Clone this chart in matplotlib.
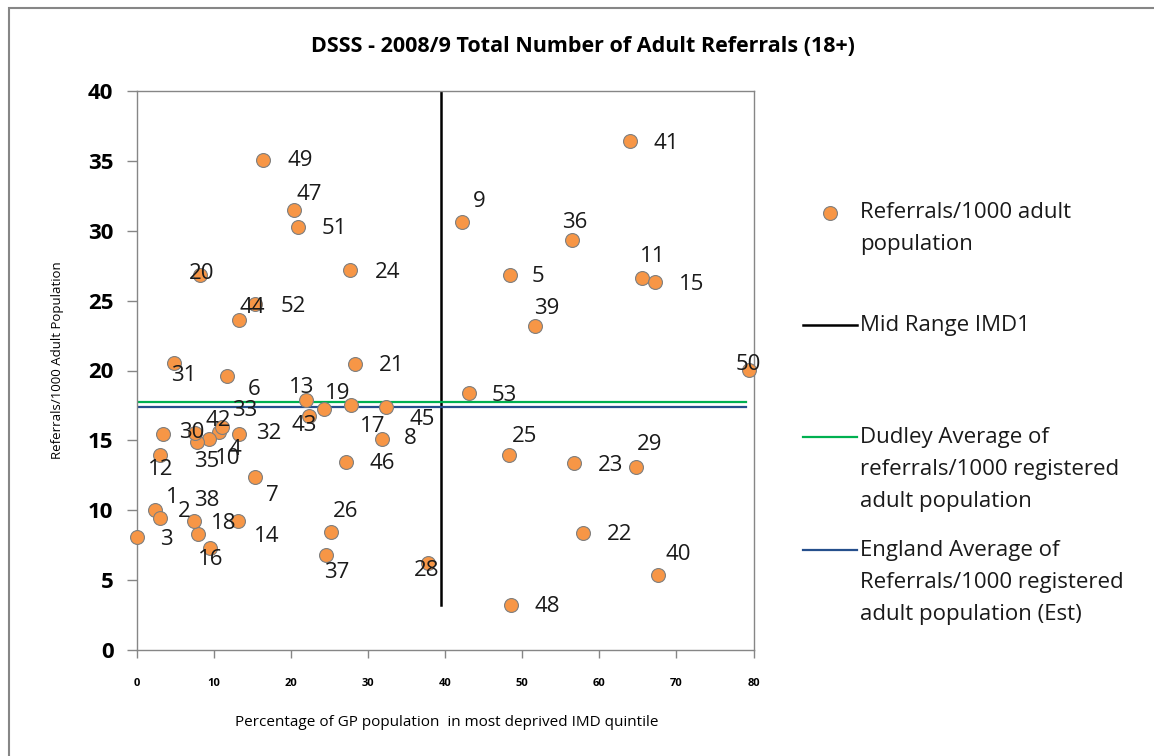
import matplotlib
matplotlib.use("Agg")
import matplotlib.pyplot as plt
from matplotlib.lines import Line2D
from matplotlib.patches import Rectangle

plt.rcParams["font.family"] = ["Open Sans", "DejaVu Sans"]

# GP practice number, % population in most deprived quintile, referrals/1000
practice = [1, 2, 3, 4, 5, 6, 7, 8, 9, 10, 11, 12, 13, 14, 15, 16, 17, 18, 19, 20,
            21, 22, 23, 24, 25, 26, 28, 29, 30, 31, 32, 33, 35, 36, 37, 38, 39, 40,
            41, 42, 43, 44, 45, 46, 47, 48, 49, 50, 51, 52, 53]
pct_deprived = [2.37, 2.93, 0.0, 10.67, 48.42, 11.67, 15.34, 31.78, 42.15, 9.38,
                65.5, 3.02, 21.92, 13.05, 67.26, 9.42, 27.8, 7.91, 24.29, 8.21,
                28.35, 57.93, 56.72, 27.67, 48.25, 25.16, 37.82, 64.72, 3.37, 4.84,
                13.18, 11.02, 7.78, 56.5, 24.51, 7.43, 51.66, 67.65, 63.98, 7.56,
                22.35, 13.27, 32.3, 27.15, 20.4, 48.51, 16.34, 79.46, 20.88, 15.34,
                43.14]
referrals = [10.02, 9.42, 8.06, 15.62, 26.83, 19.63, 12.36, 15.10, 30.65, 15.08,
             26.60, 13.98, 17.89, 9.25, 26.33, 7.32, 17.51, 8.28, 17.22, 26.83,
             20.47, 8.35, 13.36, 27.19, 13.93, 8.44, 6.20, 13.12, 15.46, 20.56,
             15.43, 15.94, 14.86, 29.34, 6.80, 9.25, 23.21, 5.37, 36.42, 15.51,
             16.77, 23.61, 17.41, 13.43, 31.49, 3.22, 35.06, 20.04, 30.29, 24.74,
             18.37]

mid_range_x = 39.5
mid_range_y = [3.2, 40]
dudley_avg = 17.75
england_avg = 17.4
avg_x = [0, 79]

# label offsets in pixels (dx right, dy down) as placed on the original chart
label_offset = {
    1: (17, -12), 2: (25, -7), 3: (29, 2), 4: (16, 18), 5: (28, 1), 6: (27, 14),
    7: (17, 18), 8: (28, 0), 9: (17, -20), 10: (18, 19), 11: (11, -22),
    12: (0, 15), 13: (-4, -12), 14: (29, 16), 15: (36, 2), 16: (1, 12),
    17: (21, 21), 18: (26, -11), 19: (14, -16), 20: (1, -2), 21: (36, 2),
    22: (36, 1), 23: (36, 2), 24: (37, 2), 25: (16, -19), 26: (15, -21),
    28: (-2, 7), 29: (14, -22), 30: (29, -1), 31: (9, 13), 32: (30, -1),
    33: (23, -17), 35: (10, 19), 36: (2, -17), 37: (11, 18), 38: (12, -20),
    39: (12, -17), 40: (20, -20), 41: (36, 2), 42: (23, -13), 43: (-5, 10),
    44: (13, -13), 45: (36, 13), 46: (36, 1), 47: (15, -15), 48: (36, 1),
    49: (37, 0), 50: (-1, -5), 51: (36, 2), 52: (38, 2), 53: (35, 2),
}

ORANGE = "#F79646"
GREEN = "#00B050"
BLUE = "#254F8C"
GREY = "#868686"

W, H = 1154, 756
fig = plt.figure(figsize=(W / 100, H / 100), dpi=100)
ax = fig.add_axes([137 / W, 1 - 650 / H, (753.5 - 137) / W, (650 - 91) / H])

ax.plot([mid_range_x, mid_range_x], mid_range_y, color="black", lw=1.8, zorder=2)
ax.plot(avg_x, [dudley_avg, dudley_avg], color=GREEN, lw=1.6, zorder=2)
ax.plot(avg_x, [england_avg, england_avg], color=BLUE, lw=1.6, zorder=2)
ax.scatter(pct_deprived, referrals, s=100, color=ORANGE, edgecolor="#7f7f7f",
           linewidth=0.8, zorder=3, clip_on=False)

for n, x, y in zip(practice, pct_deprived, referrals):
    dx, dy = label_offset[n]
    ax.annotate(str(n), (x, y), xytext=(dx, -dy), textcoords="offset pixels",
                ha="center", va="center", fontsize=16, color="#1a1a1a",
                zorder=4, annotation_clip=False)

ax.set_xlim(0, 80)
ax.set_ylim(0, 40)
ax.set_xticks(range(0, 81, 10))
ax.set_yticks(range(0, 41, 5))
for s in ax.spines.values():
    s.set_color(GREY)
    s.set_linewidth(1)
ax.tick_params(axis="y", length=7, width=1, color=GREY, pad=10, labelsize=16)
ax.tick_params(axis="x", length=6, width=1, color=GREY, pad=14, labelsize=8)
for lab in ax.get_xticklabels() + ax.get_yticklabels():
    lab.set_fontweight("bold")

fig.text(583 / W, 1 - 47 / H, "DSSS - 2008/9 Total Number of Adult Referrals (18+)",
         ha="center", va="center", fontsize=15.5, fontweight="bold")
fig.text(447 / W, 1 - 722 / H,
         "Percentage of GP population  in most deprived IMD quintile",
         ha="center", va="center", fontsize=11)
fig.text(58 / W, 1 - 360 / H, "Referrals/1000 Adult Population", rotation=90,
         ha="center", va="center", fontsize=9.5)

# legend, drawn in figure pixels to keep the Excel layout
def fx(px):
    return px / W


def fy(py):
    return 1 - py / H


fig.add_artist(Line2D([fx(829.5)], [fy(212.5)], marker="o", markersize=10,
                      markerfacecolor=ORANGE, markeredgecolor="#7f7f7f",
                      markeredgewidth=0.8, linestyle="none"))
for y0, col in [(325, "black"), (437, GREEN), (550, BLUE)]:
    fig.add_artist(Line2D([fx(803), fx(857)], [fy(y0), fy(y0)], color=col,
                          lw=1.8 if col == "black" else 1.6))

legend_text = [
    (212, "Referrals/1000 adult\npopulation"),
    (325, "Mid Range IMD1"),
    (437, "Dudley Average of\nreferrals/1000 registered\nadult population"),
    (550, "England Average of\nReferrals/1000 registered\nadult population (Est)"),
]
for y0, txt in legend_text:
    fig.text(fx(860), fy(y0 - 10), txt, ha="left", va="top", fontsize=16,
             linespacing=1.7, color="#1a1a1a")

fig.add_artist(Rectangle((fx(9), -0.1), 1.2, fy(8) + 0.1, transform=fig.transFigure,
                         fill=False, edgecolor=GREY, linewidth=1.5))

fig.savefig("out.png", dpi=100)
